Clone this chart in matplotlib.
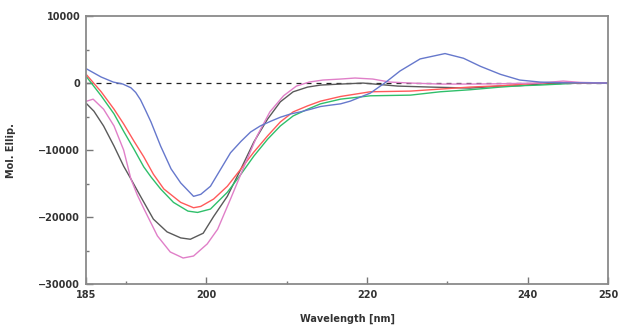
import numpy as np
from matplotlib import pyplot as plt
from matplotlib.ticker import FixedLocator

# CD spectra (wavelength nm, mol. ellipticity)
blue_x = [185.1, 186.9, 188.4, 189.6, 190.6, 191.2, 191.8, 192.4, 193.1, 194.3, 195.6, 196.8,
          198.4, 199.3, 200.5, 201.8, 203.0, 204.3, 205.5, 206.7, 208.0, 209.2, 210.5, 211.7,
          213.0, 214.2, 215.4, 216.7, 217.9, 220.4, 222.3, 224.1, 226.6, 229.7, 232.0, 234.1,
          236.6, 239.0, 241.5, 244.0, 250.0]
blue_y = [2100, 900, 150, -150, -700, -1400, -2500, -4000, -5800, -9400, -12800, -14900,
          -16900, -16600, -15400, -12800, -10400, -8700, -7300, -6400, -5700, -5100, -4600, -4300,
          -3900, -3500, -3300, -3100, -2700, -1500, 100, 1800, 3600, 4400, 3700, 2500,
          1300, 450, 150, 50, 0]

red_x = [185.1, 186.9, 188.5, 189.7, 191.0, 192.2, 193.4, 194.7, 196.8, 198.4, 199.3, 200.9,
         202.6, 204.3, 205.9, 207.6, 209.2, 210.8, 212.6, 214.2, 216.7, 220.4, 225.4, 229.1,
         232.8, 236.6, 239.0, 241.5, 244.0, 246.5, 250.0]
red_y = [1200, -1300, -3900, -6100, -8700, -11000, -13600, -15800, -17800, -18600, -18400, -17300,
         -15400, -12800, -10300, -7900, -5800, -4300, -3400, -2700, -2000, -1300, -1200, -900,
         -600, -400, -200, 0, 100, 0, 0]

green_x = [185.1, 186.9, 188.5, 189.7, 191.0, 192.2, 193.1, 194.3, 195.9, 197.7, 198.9, 200.5,
           202.6, 204.3, 205.9, 207.6, 209.2, 210.8, 212.6, 214.2, 216.7, 220.4, 225.4, 229.1,
           232.8, 236.6, 239.0, 241.5, 244.0, 246.5, 250.0]
green_y = [900, -1900, -4600, -7200, -9900, -12500, -14000, -15800, -17800, -19100, -19300, -18800,
           -16300, -13600, -10900, -8400, -6400, -4900, -3900, -3100, -2400, -1900, -1800, -1300,
           -1000, -600, -400, -300, -150, 0, 0]

gray_x = [185.1, 186.0, 187.2, 188.5, 189.7, 190.6, 191.8, 193.4, 195.1, 196.8, 198.0, 199.6,
          200.9, 202.6, 204.3, 205.9, 207.6, 209.2, 210.8, 212.6, 214.2, 216.7, 219.5, 223.8,
          227.9, 232.8, 236.6, 239.0, 241.5, 244.0, 250.0]
gray_y = [-3100, -4200, -6400, -9400, -12400, -14300, -16900, -20300, -22200, -23100, -23300, -22400,
          -19900, -16900, -12800, -8800, -5400, -2800, -1300, -600, -300, -150, 0, -450,
          -600, -750, -450, -400, -150, 0, 0]

pink_x = [185.1, 185.9, 187.2, 188.5, 189.7, 190.6, 191.4, 192.2, 193.9, 195.5, 197.1, 198.4,
          200.1, 201.4, 203.0, 204.7, 206.3, 207.9, 209.6, 211.2, 212.8, 214.5, 216.7, 218.5,
          220.7, 222.8, 225.4, 229.1, 232.8, 236.6, 241.5, 244.4, 246.5, 250.0]
pink_y = [-2700, -2400, -3900, -6400, -10000, -14300, -16700, -18700, -22800, -25200, -26100, -25800,
          -24000, -21800, -17300, -12400, -7900, -4300, -1900, -450, 150, 450, 600, 750,
          600, 150, 0, -150, -150, -100, 0, 300, 100, 0]

series = [
    (gray_x, gray_y, '#5a5a5a'),
    (green_x, green_y, '#2fbf6a'),
    (red_x, red_y, '#ff5a5a'),
    (pink_x, pink_y, '#e07fc8'),
    (blue_x, blue_y, '#6678cc'),
]

fig = plt.figure(figsize=(6.18, 3.27), dpi=100)
ax = fig.add_axes([0.139, 0.131, 0.845, 0.82])

ax.axhline(0, color='#222222', lw=0.9, ls=(0, (4, 4)), zorder=1)
for xs, ys, c in series:
    ax.plot(xs, ys, color=c, lw=1.0, zorder=2)

ax.set_xlim(185, 250)
ax.set_ylim(-30000, 10000)
ax.xaxis.set_major_locator(FixedLocator([185, 200, 220, 240, 250]))
ax.xaxis.set_minor_locator(FixedLocator([190, 210, 230]))
ax.yaxis.set_major_locator(FixedLocator([-30000, -20000, -10000, 0, 10000]))
ax.yaxis.set_minor_locator(FixedLocator([-25000, -15000, -5000, 5000]))
ax.tick_params(which='major', direction='in', length=5, width=1, color='#777777',
               labelsize=7, pad=4)
ax.tick_params(which='minor', direction='in', length=2.5, width=1, color='#777777')
for lab in ax.get_xticklabels() + ax.get_yticklabels():
    lab.set_fontweight('bold')
    lab.set_color('#333333')

for sp in ax.spines.values():
    sp.set_color('#8a8a8a')
    sp.set_linewidth(1.3)

ax.set_xlabel('Wavelength [nm]', fontsize=7, fontweight='bold', color='#333333', labelpad=10)
ax.set_ylabel('Mol. Ellip.', fontsize=7, fontweight='bold', color='#333333', labelpad=16)

fig.savefig('out.png', dpi=100)
